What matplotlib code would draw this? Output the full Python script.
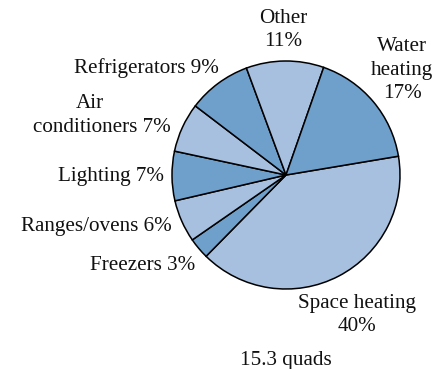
import matplotlib
matplotlib.use("Agg")
import matplotlib.pyplot as plt

# Residential energy end uses (percent of 15.3 quads), clockwise from Space heating
categories = ["Space heating", "Freezers", "Ranges/ovens", "Lighting",
              "Air conditioners", "Refrigerators", "Other", "Water heating"]
shares = [40, 3, 6, 7, 7, 9, 11, 17]
total_label = "15.3 quads"

LIGHT = "#a7c0df"
DARK = "#6fa0cc"
colors = [LIGHT, DARK, LIGHT, DARK, LIGHT, DARK, LIGHT, DARK]

W, H = 445, 369
fig = plt.figure(figsize=(W / 100, H / 100), dpi=100)
ax = fig.add_axes([0, 0, 1, 1])

cx, cy, r = 286, H - 175, 114
ax.pie(shares, colors=colors, startangle=9.5, counterclock=False,
       center=(cx, cy), radius=r, frame=True,
       wedgeprops=dict(edgecolor="black", linewidth=1.1))
ax.set_xlim(0, W)
ax.set_ylim(0, H)
ax.set_aspect("equal")
ax.axis("off")

font = dict(family="Liberation Serif", fontsize=15.2, color="#111111",
            va="center", ha="center", linespacing=1.35)

def label(x, y, s, **kw):
    opts = dict(font)
    opts.update(kw)
    ax.text(x, H - y, s, **opts)

v = dict(zip(categories, shares))
label(283, 30, f"Other\n{v['Other']}%")
label(402, 70, f"Water\nheating\n{v['Water heating']}%")
label(146, 68, f"Refrigerators {v['Refrigerators']}%")
label(90, 103, "Air")
label(102, 127, f"conditioners {v['Air conditioners']}%")
label(111, 177, f"Lighting {v['Lighting']}%")
label(96, 227, f"Ranges/ovens {v['Ranges/ovens']}%")
label(143, 265, f"Freezers {v['Freezers']}%")
label(357, 315, f"Space heating\n{v['Space heating']}%")
label(286, 360, total_label)

fig.savefig("out.png", dpi=100)
